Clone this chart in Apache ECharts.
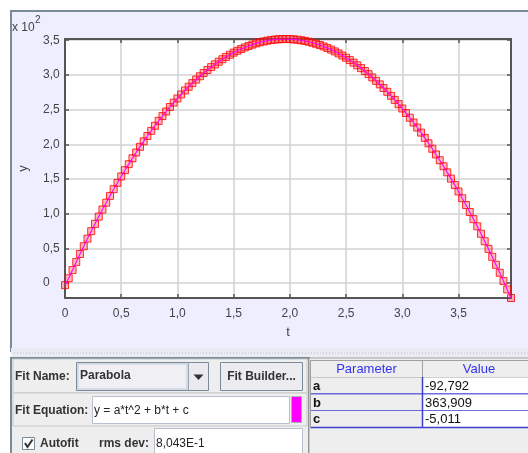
<!DOCTYPE html>
<html>
<head>
<meta charset="utf-8">
<script src="https://cdn.jsdelivr.net/npm/echarts@6/dist/echarts.min.js"></script>
<style>
html,body{margin:0;padding:0;background:#ffffff;}
#chart{width:528px;height:453px;}
</style>
</head>
<body>
<div id="chart"></div>
<script>
// time values (s)
var tValues = [
0,0.033,0.067,0.1,0.133,0.167,0.2,0.233,0.267,0.3,
0.333,0.367,0.4,0.433,0.467,0.5,0.533,0.567,0.6,0.633,
0.667,0.7,0.733,0.767,0.8,0.833,0.867,0.9,0.933,0.967,
1.0,1.033,1.067,1.1,1.133,1.167,1.2,1.233,1.267,1.3,
1.333,1.367,1.4,1.433,1.467,1.5,1.533,1.567,1.6,1.633,
1.667,1.7,1.733,1.767,1.8,1.833,1.867,1.9,1.933,1.967,
2.0,2.033,2.067,2.1,2.133,2.167,2.2,2.233,2.267,2.3,
2.333,2.367,2.4,2.433,2.467,2.5,2.533,2.567,2.6,2.633,
2.667,2.7,2.733,2.767,2.8,2.833,2.867,2.9,2.933,2.967,
3.0,3.033,3.067,3.1,3.133,3.167,3.2,3.233,3.267,3.3,
3.333,3.367,3.4,3.433,3.467,3.5,3.533,3.567,3.6,3.633,
3.667,3.7,3.733,3.767,3.8,3.833,3.867,3.9,3.933,3.967
];
// y values (raw units, axis shows x 10^2)
var yValues = [
-3.0,7.0,18.8,30.5,41.9,53.1,64.1,74.8,85.4,95.8,
106.0,115.9,125.7,135.3,144.6,153.7,162.7,171.4,179.9,188.2,
196.4,204.3,212.0,219.4,226.7,233.8,240.7,247.3,253.8,260.1,
266.1,271.9,277.6,283.0,288.2,293.3,298.1,302.7,307.1,311.3,
315.2,319.0,322.6,326.0,329.1,332.1,334.8,337.4,339.7,341.8,
343.7,345.5,347.0,348.3,349.4,350.3,351.0,351.4,351.7,351.8,
351.6,351.3,350.7,350.0,349.0,347.9,346.5,344.9,343.1,341.1,
338.9,336.5,333.9,331.1,328.0,324.8,321.4,317.7,313.9,309.8,
305.6,301.1,296.4,291.5,286.4,281.2,275.7,269.9,264.0,257.9,
251.6,245.1,238.3,231.4,224.2,216.9,209.3,201.5,193.6,185.4,
177.0,168.4,159.6,150.6,141.4,132.0,122.3,112.5,102.5,92.2,
81.8,71.1,60.3,49.2,37.9,26.4,14.8,2.9,-9.2,-21.5
];
var fitName = "Parabola";
var fitEquation = "y = a*t^2 + b*t + c";
var rmsDev = "8,043E-1";
var paramNames = ["a","b","c"];
var paramValues = ["-92,792","363,909","-5,011"];

(function(){
var FONT = "Liberation Sans, Arial, sans-serif";
var chart = echarts.init(document.getElementById('chart'), null, {renderer:'canvas'});

var points = tValues.map(function(t,i){return [t, yValues[i]];});
var xMin = tValues[0], xMax = tValues[tValues.length-1];
var yMin = Math.min.apply(null, yValues), yMax = Math.max.apply(null, yValues);

function fmtX(v){ return v===0 ? '0' : v.toFixed(1).replace('.', ','); }
function fmtY(v){ return v===0 ? '0' : (v/100).toFixed(1).replace('.', ','); }

var frameColor = '#555555';
var gridColor = '#d2d2d2';

var g = [];
g.push({type:'rect', shape:{x:11,y:11,width:530,height:340}, style:{fill:'#eeeeff', stroke:'#7a8a99', lineWidth:2}, z:-10});
g.push({type:'rect', shape:{x:11,y:348,width:530,height:10}, style:{fill:'#ebebf3'}, z:-9});
g.push({type:'line', shape:{x1:14,y1:353,x2:528,y2:353}, style:{stroke:'#b8b8c4', lineWidth:1, lineDash:[1,2]}, z:-8});
g.push({type:'rect', shape:{x:11,y:358,width:298,height:100}, style:{fill:'#eeeeee', stroke:'#7a8a99', lineWidth:2}, z:-9});
g.push({type:'rect', shape:{x:309,y:358,width:222,height:100}, style:{fill:'#eeeeee', stroke:'#a0a0a0', lineWidth:1}, z:-9});

g.push({type:'rect', shape:{x:13,y:359,width:294,height:34}, style:{fill:'#eeeeee', stroke:'#c8c8c8', lineWidth:1}, z:-7});
g.push({type:'text', x:15, y:377, style:{text:'Fit Name:', fontFamily:FONT, fontSize:12, fontWeight:'bold', fill:'#333333', verticalAlign:'middle'}});
g.push({type:'rect', shape:{x:76.5,y:362.5,width:132,height:28}, style:{fill:'#eaeaf0', stroke:'#7a8a99', lineWidth:1}});
g.push({type:'rect', shape:{x:78,y:364,width:109,height:25}, style:{fill:'#f0f0f4', stroke:'#c0c8d8', lineWidth:1}});
g.push({type:'text', x:80, y:376, style:{text:fitName, fontFamily:FONT, fontSize:12, fontWeight:'bold', fill:'#333333', verticalAlign:'middle'}});
g.push({type:'line', shape:{x1:188.5,y1:363,x2:188.5,y2:390}, style:{stroke:'#9aa4b0', lineWidth:1}});
g.push({type:'polygon', shape:{points:[[193.5,374.5],[203.5,374.5],[198.5,380]]}, style:{fill:'#333333'}});
g.push({type:'rect', shape:{x:220.5,y:362.5,width:82,height:28}, style:{fill:'#ececf0', stroke:'#7a8a99', lineWidth:1}});
g.push({type:'text', x:261.5, y:377, style:{text:'Fit Builder...', fontFamily:FONT, fontSize:12, fontWeight:'bold', fill:'#333333', align:'center', verticalAlign:'middle'}});

g.push({type:'rect', shape:{x:13,y:393,width:294,height:33}, style:{fill:'#eeeeee', stroke:'#c8c8c8', lineWidth:1}, z:-7});
g.push({type:'text', x:15, y:411, style:{text:'Fit Equation:', fontFamily:FONT, fontSize:12, fontWeight:'bold', fill:'#333333', verticalAlign:'middle'}});
g.push({type:'rect', shape:{x:92.5,y:396.5,width:197,height:27}, style:{fill:'#ffffff', stroke:'#b8c0cc', lineWidth:1}});
g.push({type:'text', x:94, y:411, style:{text:fitEquation, fontFamily:FONT, fontSize:12, fill:'#222222', verticalAlign:'middle'}});
g.push({type:'rect', shape:{x:291.5,y:396.5,width:10,height:26}, style:{fill:'#ff00ff', stroke:'#b0b0b0', lineWidth:1}});

g.push({type:'rect', shape:{x:22.5,y:437.5,width:12,height:12}, style:{fill:'#ffffff', stroke:'#7a8a99', lineWidth:1}});
g.push({type:'polyline', shape:{points:[[25,443],[27.5,447],[32.5,439.5]]}, style:{stroke:'#333333', lineWidth:2, fill:'none'}});
g.push({type:'text', x:40, y:444, style:{text:'Autofit', fontFamily:FONT, fontSize:12, fontWeight:'bold', fill:'#333333', verticalAlign:'middle'}});
g.push({type:'text', x:99, y:444, style:{text:'rms dev:', fontFamily:FONT, fontSize:12, fontWeight:'bold', fill:'#333333', verticalAlign:'middle'}});
g.push({type:'rect', shape:{x:154.5,y:428.5,width:148,height:30}, style:{fill:'#ffffff', stroke:'#b8c0cc', lineWidth:1}});
g.push({type:'text', x:156, y:444, style:{text:rmsDev, fontFamily:FONT, fontSize:12, fill:'#222222', verticalAlign:'middle'}});

g.push({type:'rect', shape:{x:310.5,y:360.5,width:220,height:17}, style:{fill:'#eeeeee', stroke:'#a0a0a0', lineWidth:1}});
g.push({type:'line', shape:{x1:422.5,y1:360,x2:422.5,y2:377}, style:{stroke:'#a0a0a0', lineWidth:1}});
g.push({type:'text', x:366.5, y:369, style:{text:'Parameter', fontFamily:FONT, fontSize:13, fill:'#3333ee', align:'center', verticalAlign:'middle'}});
g.push({type:'text', x:479, y:369, style:{text:'Value', fontFamily:FONT, fontSize:13, fill:'#3333ee', align:'center', verticalAlign:'middle'}});
var rowTops = [377.5, 394.5, 411];
for (var r=0;r<paramNames.length;r++){
  var rt = rowTops[r];
  g.push({type:'rect', shape:{x:310.5,y:rt,width:112,height:16.5}, style:{fill:'#eeeeee'}});
  g.push({type:'rect', shape:{x:423,y:rt,width:110,height:16.5}, style:{fill:'#ffffff'}});
  g.push({type:'text', x:313, y:rt+8.5, style:{text:paramNames[r], fontFamily:FONT, fontSize:13, fontWeight:'bold', fill:'#111111', verticalAlign:'middle'}});
  g.push({type:'text', x:425, y:rt+8.5, style:{text:paramValues[r], fontFamily:FONT, fontSize:13, fill:'#111111', verticalAlign:'middle'}});
  g.push({type:'line', shape:{x1:310,y1:rt+16.5,x2:528,y2:rt+16.5}, style:{stroke:'#3f3fcf', lineWidth:1.5}});
}
g.push({type:'line', shape:{x1:422.5,y1:377,x2:422.5,y2:428}, style:{stroke:'#3f3fcf', lineWidth:1.5}});
g.push({type:'line', shape:{x1:310.5,y1:377,x2:310.5,y2:428}, style:{stroke:'#a0a0a0', lineWidth:1}});

g.push({type:'text', x:12, y:28, style:{text:'x 10', fontFamily:FONT, fontSize:12, fill:'#444444', verticalAlign:'middle'}});
g.push({type:'text', x:35, y:20, style:{text:'2', fontFamily:FONT, fontSize:10, fill:'#444444', verticalAlign:'middle'}});

var option = {
  animation:false,
  grid:{left:65, top:39, width:446, height:259, show:true, backgroundColor:'#ffffff', borderWidth:0},
  xAxis:[{
    type:'value', position:'bottom', min:xMin, max:xMax, interval:0.5,
    name:'t', nameLocation:'middle', nameGap:28,
    nameTextStyle:{fontFamily:FONT, fontSize:13, color:'#444444'},
    axisLine:{show:true, onZero:false, lineStyle:{color:frameColor, width:2}},
    axisTick:{show:true, inside:true, length:4, lineStyle:{color:frameColor, width:1.5}},
    axisLabel:{show:true, margin:10, showMaxLabel:false, formatter:fmtX, fontFamily:FONT, fontSize:12, color:'#444444'},
    splitLine:{show:true, lineStyle:{color:gridColor, width:1.5}}
  },{
    type:'value', position:'top', min:xMin, max:xMax, interval:0.5,
    axisLine:{show:true, onZero:false, lineStyle:{color:frameColor, width:2}},
    axisTick:{show:true, inside:true, length:4, lineStyle:{color:frameColor, width:1.5}},
    axisLabel:{show:false}, splitLine:{show:false}
  }],
  yAxis:[{
    type:'value', position:'left', min:yMin, max:yMax, splitNumber:8,
    name:'y', nameLocation:'middle', nameGap:35,
    nameTextStyle:{fontFamily:FONT, fontSize:13, color:'#444444'},
    axisLine:{show:true, onZero:false, lineStyle:{color:frameColor, width:2}},
    axisTick:{show:true, inside:true, length:4, lineStyle:{color:frameColor, width:1.5}},
    axisLabel:{show:true, margin:22, align:'left', showMinLabel:false, showMaxLabel:false, formatter:fmtY, fontFamily:FONT, fontSize:12, color:'#444444'},
    splitLine:{show:true, lineStyle:{color:gridColor, width:1.5}}
  },{
    type:'value', position:'right', min:yMin, max:yMax, splitNumber:8,
    axisLine:{show:true, onZero:false, lineStyle:{color:frameColor, width:2}},
    axisTick:{show:true, inside:true, length:4, lineStyle:{color:frameColor, width:1.5}},
    axisLabel:{show:false}, splitLine:{show:false}
  }],
  series:[{
    type:'scatter', xAxisIndex:0, yAxisIndex:0, data:points,
    symbol:'rect', symbolSize:7,
    itemStyle:{color:'rgba(255,40,40,0.4)', borderColor:'#ff0000', borderWidth:1},
    z:3
  },{
    type:'line', xAxisIndex:0, yAxisIndex:0, data:points,
    showSymbol:false, symbol:'none',
    lineStyle:{color:'#ff00ff', width:1.1},
    z:4
  }],
  graphic:{elements:g}
};
chart.setOption(option);
})();
</script>
</body>
</html>
